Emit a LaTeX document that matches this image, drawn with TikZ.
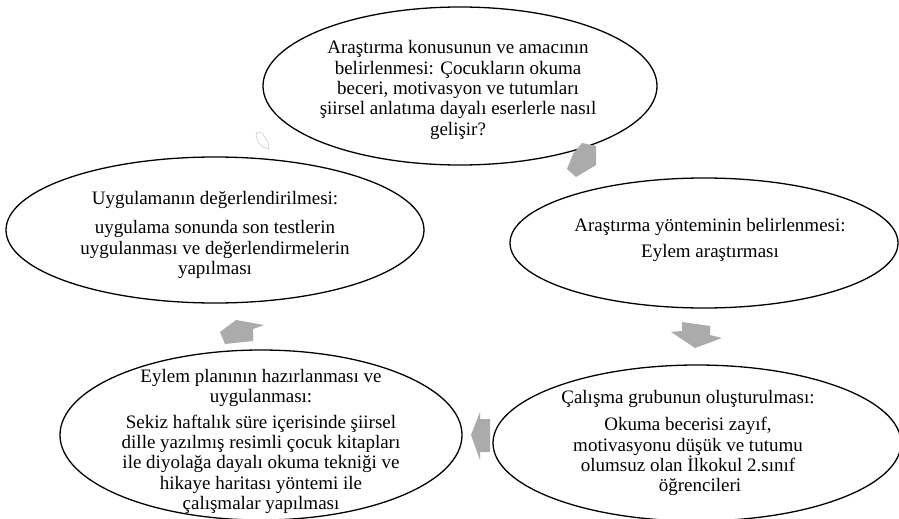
\documentclass[tikz,border=0pt]{standalone}
\usepackage{fontspec}
\setmainfont{Liberation Serif}
\usetikzlibrary{shapes.geometric}
\begin{document}
\begin{tikzpicture}[x=1pt,y=-1pt,
  ell/.style={draw=black, line width=1.3pt, ellipse, inner sep=0pt, outer sep=0pt},
  txt/.style={align=center, inner sep=0pt, font=\fontsize{19}{20.4}\selectfont},
  cyc/.style={fill=black!33, draw=none},
  faint/.style={draw=black!22, line width=0.5pt, fill=none}]
\useasboundingbox (0,0) rectangle (899,519);
\fill[white] (0,0) rectangle (899,519);
% ellipses
\node[ell, minimum width=394pt, minimum height=158pt] (e1) at (460,86) {};
\node[ell, minimum width=388pt, minimum height=130pt] (e2) at (704,243) {};
\node[ell, minimum width=408pt, minimum height=156pt] (e3) at (697,443) {};
\node[ell, minimum width=402pt, minimum height=170pt] (e4) at (261,435) {};
\node[ell, minimum width=418pt, minimum height=146pt] (e5) at (215,230) {};
% texts
\node[txt] (t1) at ([xshift=-2pt,yshift=-4pt]e1.center) {Araştırma konusunun ve amacının\\belirlenmesi: Çocukların okuma\\beceri, motivasyon ve tutumları\\şiirsel anlatıma dayalı eserlerle nasıl\\gelişir?};
\node[txt] (t2) at ([xshift=6pt,yshift=3pt]e2.center) {Araştırma yönteminin belirlenmesi:\\[6pt]Eylem araştırması};
\node[txt] (t3) at ([xshift=-9pt,yshift=0pt]e3.center) {Çalışma grubunun oluşturulması:\\[7pt]Okuma becerisi zayıf,\\motivasyonu düşük ve tutumu\\olumsuz olan İlkokul 2.sınıf\\\hspace*{24pt}öğrencileri};
\node[txt] (t4) at ([yshift=-6.5pt]e4.center) {Eylem planının hazırlanması ve\\uygulanması:\\[5pt]Sekiz haftalık süre içerisinde şiirsel\\dille yazılmış resimli çocuk kitapları\\ile diyolağa dayalı okuma tekniği ve\\hikaye haritası yöntemi ile\\çalışmalar yapılması};
\node[txt] (t5) at ([yshift=-5pt]e5.center) {Uygulamanın değerlendirilmesi:\\[9pt]uygulama sonunda son testlerin\\uygulanması ve değerlendirmelerin\\yapılması};
% cycle arrows
\fill[cyc] (582,143) -- (596,146) -- (596,165) -- (576,177) -- (567,169) -- (573,154) -- cycle;
\fill[cyc] (682,322) -- (710,326) -- (710,335) -- (722,338) -- (695,348) -- (671,332) -- (682,331) -- cycle;
\fill[cyc] (480,412) -- (480,419) -- (490,419) -- (490,452) -- (480,452) -- (480,460) -- (471,435) -- cycle;
\fill[cyc] (236,320) -- (264,325) -- (253,329) -- (253,341) -- (225,344) -- (220,332) -- cycle;
\draw[faint] (257,132) -- (262,133) -- (268,142) -- (269,149) -- (263,147) -- (258,142) -- (256,135) -- cycle;
\end{tikzpicture}
\end{document}
